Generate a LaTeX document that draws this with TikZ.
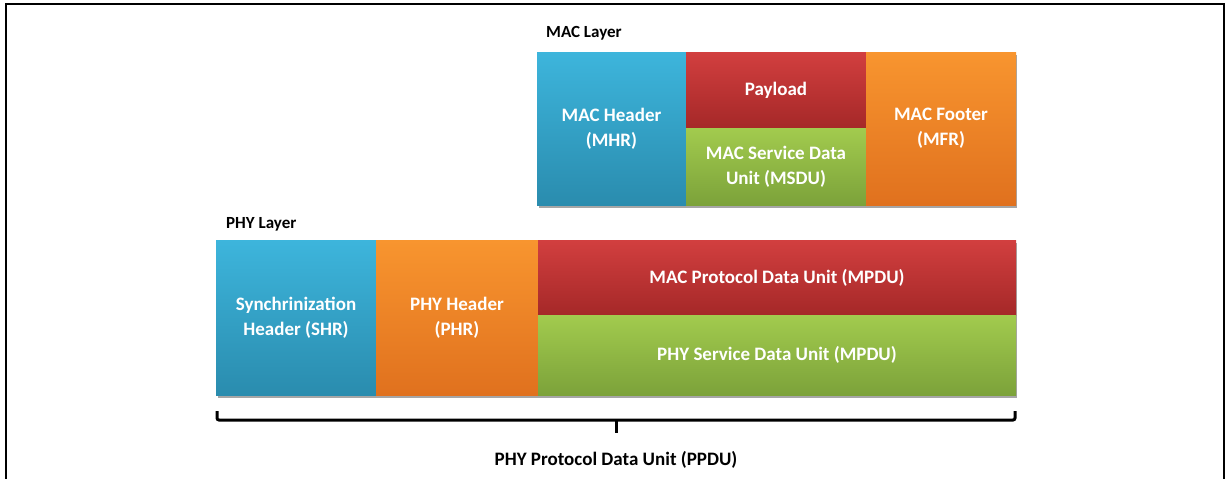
\documentclass[tikz,border=0pt]{standalone}
\usepackage{fontspec}
\setmainfont{Carlito}
\definecolor{blueT}{HTML}{3DB5DC}\definecolor{blueB}{HTML}{2A8CAE}
\definecolor{redT}{HTML}{D23F3F}\definecolor{redB}{HTML}{A52828}
\definecolor{orangeT}{HTML}{F8952F}\definecolor{orangeB}{HTML}{E0711E}
\definecolor{greenT}{HTML}{A2CB4E}\definecolor{greenB}{HTML}{7CA23A}
\begin{document}
\begin{tikzpicture}[x=1pt,y=-1pt,
		box/.style={anchor=north west,inner sep=0pt,outer sep=0pt,align=center,
			text=white,font=\bfseries\fontsize{19}{25}\selectfont},
		bluebox/.style={box,top color=blueT,bottom color=blueB},
		redbox/.style={box,top color=redT,bottom color=redB},
		orangebox/.style={box,top color=orangeT,bottom color=orangeB},
		greenbox/.style={box,top color=greenT,bottom color=greenB},
		layer/.style={anchor=west,inner sep=0pt,font=\bfseries\fontsize{17}{19}\selectfont}]
	\useasboundingbox (0,0) rectangle (1229,479);
	
	% Khung ngoài
	\draw[line width=2pt] (6,479) -- (6,4) -- (1224,4) -- (1224,479);
	
	% Bóng dưới các khối
	\fill[gray!70] (539,55) rectangle (1017,208);
	\fill[gray!70] (218,243) rectangle (1017,398);
	
	% Lớp MAC
	\node[layer] (maclbl) at (546,33) {MAC Layer};
	\node[bluebox,minimum width=149pt,minimum height=153pt] (mhr) at (537,52) {MAC Header\\(MHR)};
	\node[redbox,minimum width=180pt,minimum height=76pt] (payload) at (686,52) {Payload};
	\node[greenbox,minimum width=180pt,minimum height=77pt] (msdu) at (686,128) {MAC Service Data\\Unit (MSDU)};
	\node[orangebox,minimum width=150pt,minimum height=153pt] (mfr) at (866,52) {MAC Footer\\(MFR)};
	
	% Lớp PHY
	\node[layer] (phylbl) at (226,224) {PHY Layer};
	\node[bluebox,minimum width=160pt,minimum height=155pt] (shr) at (216,240) {Synchrinization\\Header (SHR)};
	\node[orangebox,minimum width=162pt,minimum height=155pt] (phr) at (376,240) {PHY Header\\(PHR)};
	\node[redbox,minimum width=478pt,minimum height=75pt] (mpdu) at (538,240) {MAC Protocol Data Unit (MPDU)};
	\node[greenbox,minimum width=478pt,minimum height=80pt] (psdu) at (538,315) {PHY Service Data Unit (MPDU)};
	
	% Ngoặc PPDU
	\coordinate (bl) at (217,411);
	\coordinate (br) at (1015,411);
	\coordinate (tip) at (616,433);
	\draw[line width=3pt,rounded corners=2pt] (bl) -- (bl |- 0,420) -- (br |- 0,420) -- (br);
	\draw[line width=3pt] (tip |- 0,420) -- (tip);
	\node[font=\bfseries\fontsize{19}{21}\selectfont] (ppdu) at (616,460) {PHY Protocol Data Unit (PPDU)};
\end{tikzpicture}
\end{document}
